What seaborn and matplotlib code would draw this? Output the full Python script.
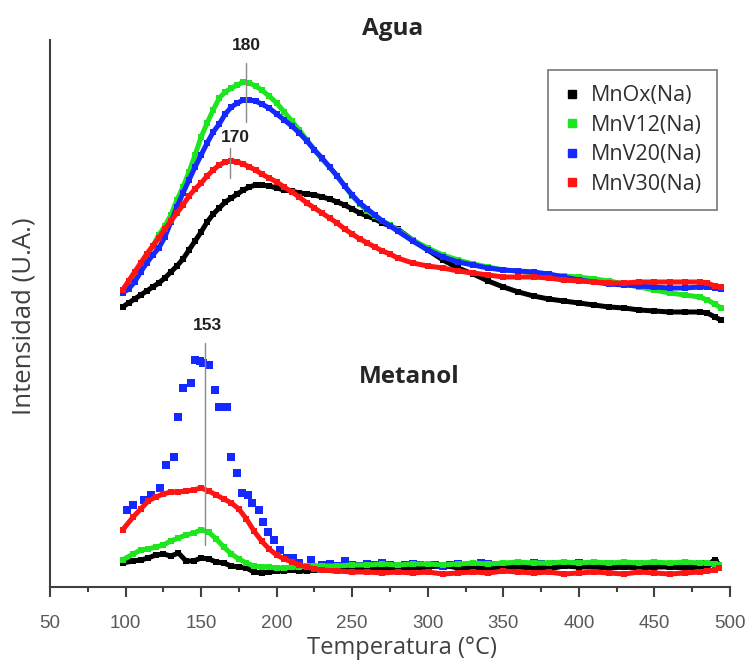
import seaborn as sns
import matplotlib.pyplot as plt
import pandas as pd
import numpy as np
from matplotlib.lines import Line2D

# muestras
samples = ['MnOx(Na)', 'MnV12(Na)', 'MnV20(Na)', 'MnV30(Na)']
colors = {'MnOx(Na)': '#000000', 'MnV12(Na)': '#1ee61e',
          'MnV20(Na)': '#1428ff', 'MnV30(Na)': '#ff1414'}

# Agua - temperatura (°C) e intensidad (u.a.)
t_agua = [98, 102, 106, 110, 114, 118, 122, 126, 130, 134, 138, 142, 146, 150, 154, 158,
          162, 166, 170, 174, 178, 182, 186, 190, 195, 200, 205, 210, 215, 220, 225, 230,
          235, 240, 245, 250, 255, 260, 265, 270, 275, 280, 290, 300, 310, 320, 330, 340,
          350, 360, 370, 380, 390, 400, 410, 420, 430, 440, 450, 460, 470, 480, 485, 490, 494]
agua_mnox = [280, 284, 288, 292, 296, 300, 304, 309, 315, 321, 328, 337, 346, 355, 365, 373,
             379, 385, 389, 393, 397, 400, 402, 402, 401, 399, 397, 396, 394, 393, 392, 390,
             388, 385, 382, 378, 374, 371, 368, 364, 361, 358, 347, 337, 327, 319, 313, 306,
             300, 295, 291, 288, 286, 284, 282, 280, 279, 277, 276, 275, 275, 275, 274, 270, 267]
agua_v12 = [297, 302, 308, 319, 331, 341, 352, 361, 372, 387, 400, 415, 432, 450, 464, 477,
            489, 495, 499, 502, 505, 504, 501, 497, 491, 484, 475, 466, 457, 447, 437, 428,
            420, 411, 401, 391, 383, 376, 371, 366, 362, 357, 347, 339, 332, 327, 323, 320,
            317, 316, 314, 312, 311, 310, 308, 306, 303, 300, 297, 294, 292, 290, 287, 283, 279]
agua_v20 = [294, 298, 305, 315, 324, 332, 339, 350, 365, 380, 394, 407, 420, 432, 444, 455,
            463, 473, 480, 484, 487, 487, 486, 483, 479, 473, 467, 461, 454, 446, 437, 429,
            420, 411, 401, 392, 384, 378, 372, 366, 361, 356, 346, 337, 330, 325, 322, 319,
            317, 316, 315, 313, 310, 307, 305, 303, 302, 301, 300, 299, 299, 300, 300, 299, 298]
agua_v30 = [297, 306, 315, 324, 333, 341, 349, 358, 366, 374, 382, 391, 398, 404, 411, 417,
            422, 425, 426, 425, 423, 420, 417, 413, 409, 405, 400, 395, 390, 384, 379, 374,
            369, 364, 358, 353, 348, 344, 340, 336, 333, 329, 324, 321, 319, 316, 314, 312,
            310, 310, 310, 309, 307, 306, 305, 304, 304, 305, 305, 305, 305, 305, 304, 301, 300]

# Metanol
t_met = [98, 105, 110, 115, 120, 125, 130, 135, 140, 145, 150, 155, 160, 165, 170, 175,
         180, 185, 190, 195, 200, 205, 210, 215, 220, 225, 230, 240, 250, 260, 270, 280,
         290, 300, 310, 320, 330, 340, 350, 360, 370, 380, 390, 400, 410, 420, 430, 440,
         450, 460, 470, 480, 485, 490, 493]
met_mnox = [24, 26, 27, 29, 32, 33, 31, 34, 26, 26, 29, 28, 25, 24, 21, 20,
            19, 15, 14, 15, 16, 16, 17, 16, 16, 17, 17, 16, 18, 18, 19, 18,
            19, 20, 22, 19, 18, 19, 18, 20, 19, 18, 21, 20, 20, 19, 20, 19,
            20, 20, 19, 20, 22, 27, 22]
met_v12 = [27, 33, 37, 38, 40, 42, 46, 49, 52, 54, 57, 55, 48, 40, 33, 28,
           24, 21, 20, 20, 19, 19, 20, 20, 21, 21, 21, 21, 22, 22, 23, 22,
           23, 23, 22, 23, 24, 23, 24, 25, 24, 24, 25, 24, 25, 24, 25, 24,
           25, 24, 25, 24, 24, 23, 22]
met_v30 = [57, 70, 78, 86, 90, 93, 95, 95, 96, 97, 99, 96, 92, 88, 84, 78,
           68, 56, 46, 38, 32, 28, 25, 22, 20, 18, 17, 16, 15, 15, 14, 15,
           14, 15, 13, 14, 15, 14, 16, 15, 14, 15, 13, 14, 15, 14, 13, 15,
           14, 13, 14, 15, 16, 17, 19]
# MnV20 en metanol (puntos mas espaciados)
t_met_v20 = [101, 105, 112, 117, 123, 127, 132, 135, 138, 143, 146, 149, 151, 155, 159,
             162, 167, 170, 174, 177, 181, 184, 188, 191, 194, 198, 202, 207, 211, 215, 223,
             230, 235, 240, 245, 250, 255, 260, 265, 270, 275, 280, 285, 290, 295, 300, 305,
             310, 315, 320, 325, 330, 335, 340, 345, 350, 355, 360, 365, 370, 375, 380, 385,
             390, 395, 400, 405, 410, 415, 420, 425, 430, 435, 440, 445, 450, 455, 460, 465,
             470, 475, 480, 485, 490]
met_v20 = [77, 82, 87, 92, 99, 122, 130, 170, 199, 204, 227, 226, 224, 222, 197,
           180, 180, 130, 114, 94, 92, 84, 77, 65, 55, 47, 37, 29, 29, 24, 27,
           22, 23, 21, 26, 22, 21, 23, 22, 24, 22, 21, 22, 23, 22, 21, 22,
           21, 22, 23, 21, 22, 24, 23, 22, 21, 22, 23, 22, 24, 23, 22, 23,
           22, 23, 24, 22, 23, 22, 23, 22, 21, 22, 23, 22, 21, 22, 21, 22,
           21, 22, 23, 22, 24]

agua = pd.concat([pd.DataFrame({'T': t_agua, 'I': v, 'muestra': s})
                  for s, v in zip(samples, [agua_mnox, agua_v12, agua_v20, agua_v30])])
met = pd.concat([pd.DataFrame({'T': t_met, 'I': v, 'muestra': s})
                 for s, v in zip(['MnOx(Na)', 'MnV12(Na)', 'MnV30(Na)'],
                                 [met_mnox, met_v12, met_v30])])
met20 = pd.DataFrame({'T': t_met_v20, 'I': met_v20})

sns.set_style('ticks')
plt.rcParams['font.family'] = ['Open Sans', 'DejaVu Sans']

fig = plt.figure(figsize=(7.49, 6.62), dpi=100)
ax = fig.add_axes([50 / 749, 1 - 587 / 662, 680 / 749, 547 / 662])

sns.lineplot(data=met, x='T', y='I', hue='muestra', palette=colors, estimator=None,
             sort=False, marker='s', markersize=4.5, markeredgewidth=0, linewidth=3.6,
             legend=False, ax=ax)
sns.scatterplot(data=met20, x='T', y='I', color=colors['MnV20(Na)'], marker='s', s=26,
                linewidth=0, ax=ax)
sns.lineplot(data=agua, x='T', y='I', hue='muestra', palette=colors, estimator=None,
             sort=False, marker='s', markersize=4.5, markeredgewidth=0, linewidth=3.6,
             legend=False, ax=ax)

# lineas de los maximos
ax.plot([180, 180], [465, 524], color='#8a8a8a', lw=1)
ax.plot([169, 169], [409, 439], color='#8a8a8a', lw=1)
ax.plot([152.6, 152.6], [42, 244], color='#8a8a8a', lw=1)
num_font = dict(family='Liberation Sans', fontweight='bold', fontsize=12.5,
                color='#202020', ha='center', va='center')
ax.text(180, 542, '180', **num_font)
ax.text(173, 449, '170', **num_font)
ax.text(154, 261, '153', **num_font)

ax.text(277, 558, 'Agua', fontsize=17.5, fontweight='bold', ha='center', va='center',
        clip_on=False)
ax.text(288, 210, 'Metanol', fontsize=17.5, fontweight='bold', ha='center', va='center')

ax.set_xlim(50, 500)
ax.set_ylim(0, 547)
ax.set_xticks(range(50, 501, 50))
ax.set_xticks(range(75, 500, 50), minor=True)
ax.set_yticks([])
ax.tick_params(axis='x', which='major', direction='out', length=7, width=1.5,
               color='#404040', labelsize=13.5, labelcolor='#595959', pad=13)
ax.tick_params(axis='x', which='minor', direction='out', length=3.5, width=1.5, color='#404040')
for lab in ax.get_xticklabels():
    lab.set_family('Liberation Sans')
for side in ['top', 'right']:
    ax.spines[side].set_visible(False)
for side in ['left', 'bottom']:
    ax.spines[side].set_color('#404040')
    ax.spines[side].set_linewidth(1.5)

ax.set_xlabel('Temperatura (°C)', fontsize=17, color='#404040')
ax.xaxis.set_label_coords(0.518, -0.09)
ax.set_ylabel('Intensidad (U.A.)', fontsize=18.5, color='#404040')
ax.yaxis.set_label_coords(-0.02, 0.495)

handles = [Line2D([], [], marker='s', linestyle='none', color=colors[s], markersize=5.5)
           for s in samples]
leg = ax.legend(handles, samples, loc='upper right', bbox_to_anchor=(0.981, 0.946),
                fontsize=15.5, frameon=True, fancybox=False, edgecolor='#555555',
                handlelength=0.8, handletextpad=0.45, labelspacing=0.4, borderpad=0.72,
                borderaxespad=0)
leg.get_frame().set_linewidth(1.2)
for txt in leg.get_texts():
    txt.set_color('#303030')

fig.savefig('out.png', dpi=100)
